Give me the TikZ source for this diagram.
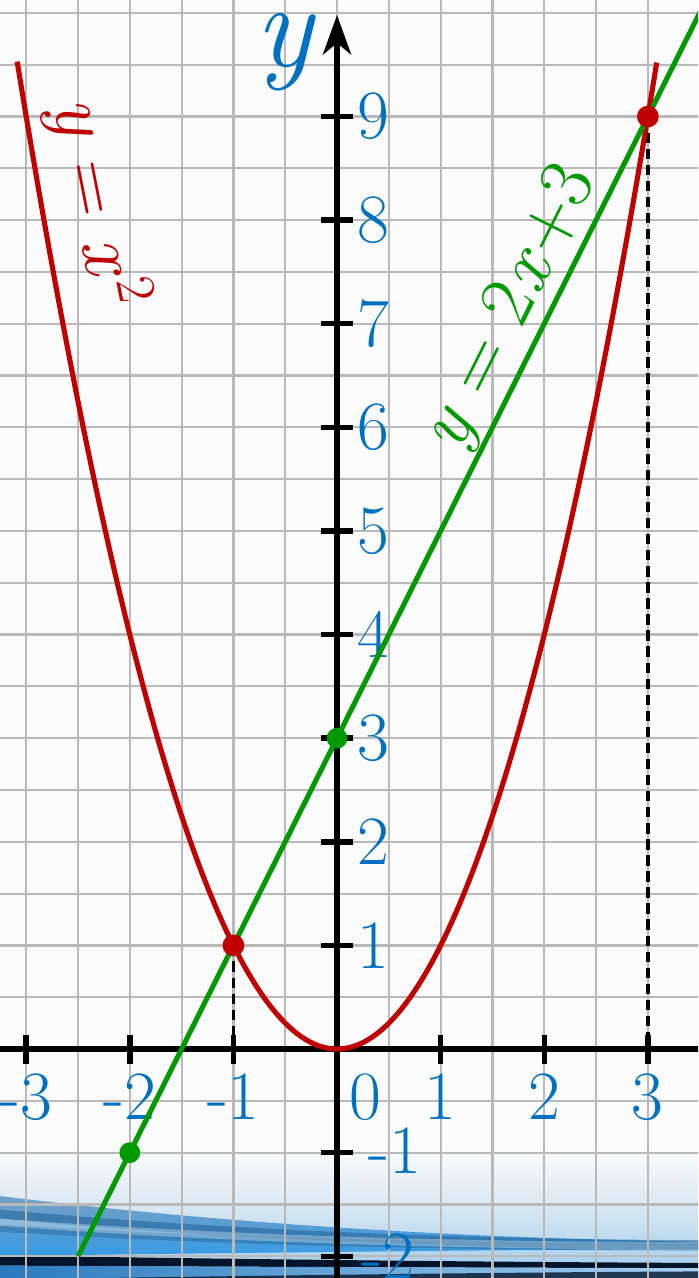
\documentclass[tikz,border=0pt]{standalone}
\usepackage{fontspec}
\usetikzlibrary{arrows.meta}
\definecolor{lblue}{RGB}{0,112,192}
\definecolor{cred}{RGB}{192,0,0}
\definecolor{cgreen}{RGB}{0,153,0}
\definecolor{bgc}{RGB}{251,251,251}
\definecolor{waveA}{RGB}{222,234,243}
\definecolor{waveB}{RGB}{150,198,234}
\definecolor{wedgetop}{RGB}{120,160,195}
\definecolor{wedgebot}{RGB}{55,155,228}
\definecolor{streakmid}{RGB}{30,90,140}
\definecolor{streakdark}{RGB}{3,20,42}
\definecolor{lowleft}{RGB}{40,120,188}
\definecolor{lowright}{RGB}{170,212,245}
\newcommand{\msp}{\hspace{0.3em}}
\begin{document}
\begin{tikzpicture}[
  tlabel/.style={text=lblue, font=\fontsize{19}{22}\selectfont, inner sep=0pt},
  gridline/.style={gray!55, line width=0.6pt},
  axisline/.style={black, line width=1.7pt},
  tickmark/.style={black, line width=1.5pt},
  curve/.style={line width=1.4pt},
  dropline/.style={black, line width=0.9pt, dash pattern=on 0.1cm off 0.055cm},
  reddot/.style={circle, fill=cred, inner sep=0pt, minimum size=0.21cm},
  greendot/.style={circle, fill=cgreen, inner sep=0pt, minimum size=0.2cm},
  streak/.style={line cap=butt},
]
\useasboundingbox (-3.253,-2.210) rectangle (3.485,10.125);
\clip (-3.253,-2.210) rectangle (3.485,10.125);
% background
\fill[bgc] (-3.4,-2.4) rectangle (3.6,10.3);
\shade[top color=bgc, bottom color=waveA] (-3.4,-0.95) rectangle (3.6,-1.45);
\shade[top color=waveA, bottom color=waveB] (-3.4,-1.449) rectangle (3.6,-2.3);
% slanted wave wedge (wide on the left, thin on the right)
\shade[top color=wedgetop, bottom color=wedgebot]
  (-3.4,-1.40) .. controls (-1.2,-1.68) and (1.2,-1.83) .. (3.6,-1.86)
  -- (3.6,-1.93) .. controls (1.2,-1.94) and (-1.2,-1.97) .. (-3.4,-2.0) -- cycle;
\draw[streak, streakmid, opacity=0.5, line width=2.5pt] (-3.4,-1.58) .. controls (-1.2,-1.79) and (1.2,-1.88) .. (3.6,-1.89);
\draw[streak, streakmid, opacity=0.4, line width=2pt] (-3.4,-1.72) .. controls (-1.2,-1.86) and (1.2,-1.91) .. (3.6,-1.91);
\draw[streak, white, opacity=0.3, line width=2pt] (-3.4,-1.66) .. controls (-1.2,-1.83) and (1.2,-1.90) .. (3.6,-1.90);
% dark band
\fill[streakdark]
  (-3.4,-1.99) .. controls (-1.2,-2.025) and (1.2,-2.055) .. (3.6,-2.065)
  -- (3.6,-2.115) .. controls (1.2,-2.11) and (-1.2,-2.10) .. (-3.4,-2.09) -- cycle;
% below the dark band
\shade[left color=lowleft, right color=lowright]
  (-3.4,-2.09) .. controls (-1.2,-2.10) and (1.2,-2.11) .. (3.6,-2.115)
  -- (3.6,-2.4) -- (-3.4,-2.4) -- cycle;
\draw[streak, streakdark, opacity=0.8, line width=2.5pt] (-3.4,-2.27) .. controls (-1.2,-2.24) and (1.2,-2.20) .. (3.6,-2.19);
% grid
\draw[gridline, step=0.5] (-3.5,-2.5) grid (3.5,10.5);
% key points
\coordinate (A) at (-1,1);
\coordinate (B) at (3,9);
\coordinate (C) at (0,3);
\coordinate (D) at (-2,-1);
\coordinate (A0) at (-1,0);
\coordinate (B0) at (3,0);
\coordinate (xl) at (-3.4,0);
\coordinate (xr) at (3.6,0);
\coordinate (yb) at (0,-2.4);
\coordinate (yt) at (0,9.98);
\coordinate (gs) at (-2.5,-2);
\coordinate (ge) at (3.6,10.2);
% dashed drop lines
\draw[dropline] (A) -- (A0);
\draw[dropline] (B) -- (B0);
% axes
\draw[axisline] (xl) -- (xr);
\draw[axisline, -{Stealth[length=3.8mm, width=2.7mm, inset=1.1mm]}] (yb) -- (yt);
\foreach \x in {-3,-2,-1,1,2,3} {
  \draw[tickmark] (\x,-0.14) -- (\x,0.14);
  \node[tlabel, anchor=base] (xlab\x) at (\x,-0.685) {\x};
}
\node[tlabel, anchor=base] (xlab0) at (0.27,-0.685) {0};
\foreach \y in {-2,-1,1,2,3,4,5,6,7,8,9} {
  \draw[tickmark] (-0.155,\y) -- (0.155,\y);
}
\foreach \y in {1,2,3,4,5,6,7,8,9} {
  \node[tlabel, anchor=west] (ylab\y) at (0.19,\y) {\y};
}
\node[tlabel, anchor=west] (ylabm1) at (0.30,-0.98) {-1};
\node[tlabel, anchor=west] (ylabm2) at (0.23,-2.0) {-2};
% curves
\draw[curve, cred] plot[domain=-3.087:3.087, samples=121, smooth] (\x,{\x*\x});
\draw[curve, cgreen] (gs) -- (ge);
% dots
\node[reddot] (dA) at (A) {};
\node[reddot] (dB) at (B) {};
\node[greendot] (dC) at (C) {};
\node[greendot] (dD) at (D) {};
% labels
\node[text=lblue, font=\fontsize{33}{36}\selectfont\itshape, inner sep=0pt] (ylabel) at (-0.51,9.62) {y};
\node[text=cred, rotate=-79, font=\fontsize{21.5}{25}\selectfont, inner sep=0pt] (lpar) at (-2.31,8.17) {\textit{y}\msp=\msp\textit{x}\hspace{0.05em}\textsuperscript{2}};
\node[text=cgreen, rotate=63.43, font=\fontsize{21}{25}\selectfont, inner sep=0pt] (llin) at (1.69,7.14) {\textit{y}\msp=\msp2\hspace{0.03em}\textit{x}\hspace{0.03em}+3};
\end{tikzpicture}
\end{document}
